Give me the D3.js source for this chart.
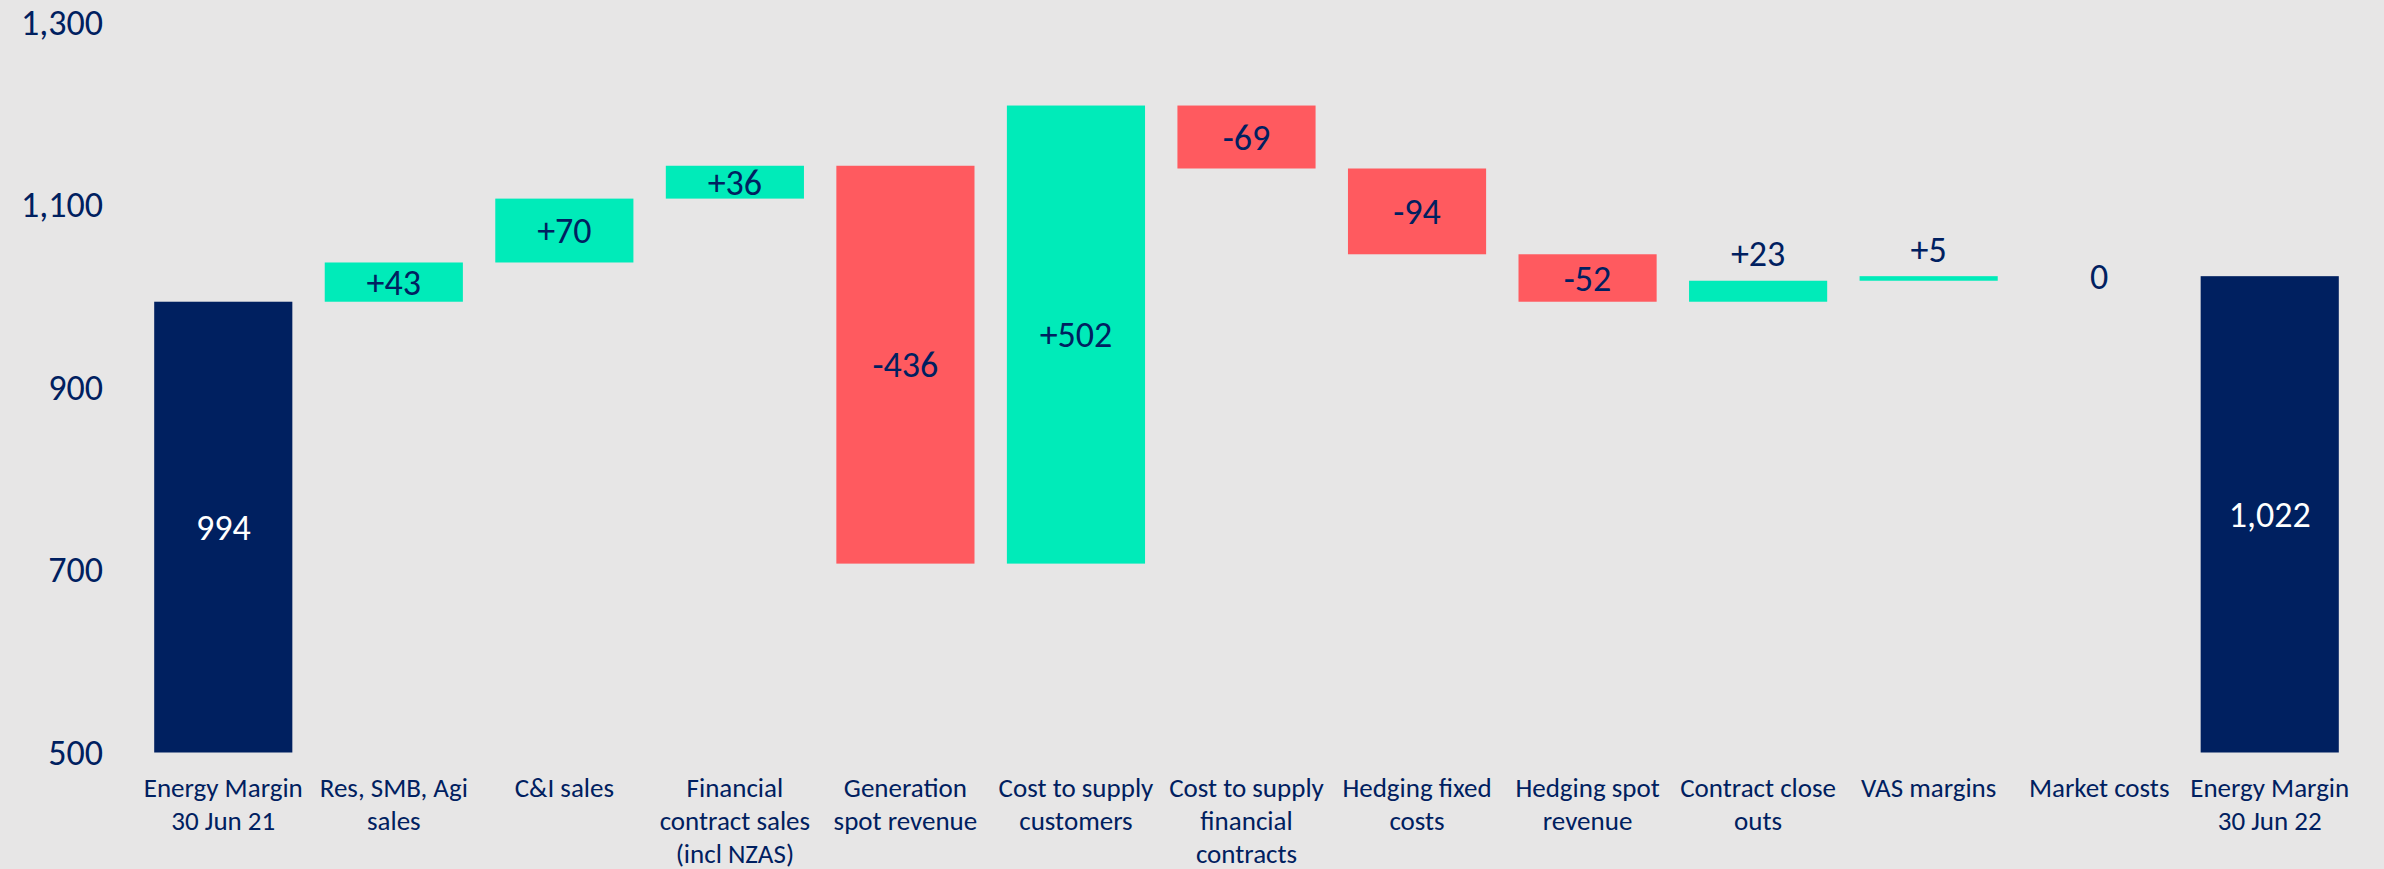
<!DOCTYPE html>
<html>
<head>
<meta charset="utf-8">
<script src="https://cdnjs.cloudflare.com/ajax/libs/d3/7.8.5/d3.min.js"></script>
<style>
    body { margin: 0; background: #e7e6e6; }
    svg text { font-family: Carlito, Calibri, Lato, "Liberation Sans", sans-serif; fill: #002060; }
</style>
</head>
<body>
<div id="chart"></div>
<script>
// waterfall: energy margin FY21 -> FY22
let categories = [
    "Energy Margin\n30 Jun 21",
    "Res, SMB, Agi\nsales",
    "C&I sales",
    "Financial\ncontract sales\n(incl NZAS)",
    "Generation\nspot revenue",
    "Cost to supply\ncustomers",
    "Cost to supply\nfinancial\ncontracts",
    "Hedging fixed\ncosts",
    "Hedging spot\nrevenue",
    "Contract close\nouts",
    "VAS margins",
    "Market costs",
    "Energy Margin\n30 Jun 22"
];
let values = [994, 43, 70, 36, -436, 502, -69, -94, -52, 23, 5, 0, 1022];
let isTotal = [true, false, false, false, false, false, false, false, false, false, false, false, true];
let yTicks = [500, 700, 900, 1100, 1300];

let width = 2384, height = 869;
let navy = "#002060", green = "#00ebb9", red = "#ff5a5f";

// work out start/end of each step
let rows = [];
let running = 0;
values.forEach(function(v, i) {
    let start, end;
    if (isTotal[i]) {
        start = 500;
        end = v;
        running = v;
    } else {
        start = running;
        end = running + v;
        running = end;
    }
    rows.push({cat: categories[i], value: v, total: isTotal[i], start: start, end: end});
});

let svg = d3.select("#chart").append("svg")
    .attr("width", width)
    .attr("height", height);

svg.append("rect")
    .attr("width", width)
    .attr("height", height)
    .attr("fill", "#e7e6e6");

let x = d3.scaleBand()
    .domain(categories)
    .range([138, 2355])
    .paddingInner(0.19)
    .paddingOuter(0.095);

let y = d3.scaleLinear()
    .domain([500, 1300])
    .range([752.5, 22.5]);

// y axis labels only, no line
let yAxis = svg.append("g")
    .attr("transform", "translate(103,0)")
    .call(d3.axisLeft(y).tickValues(yTicks).tickFormat(d3.format(",")).tickSize(0).tickPadding(0));
yAxis.select(".domain").remove();
yAxis.selectAll("text")
    .attr("font-size", 36)
    .attr("fill", navy)
    .style("font-family", null);

let bars = svg.append("g").selectAll("g")
    .data(rows)
    .enter()
    .append("g");

bars.filter(d => d.value !== 0 || d.total)
    .append("rect")
    .attr("x", d => x(d.cat))
    .attr("width", x.bandwidth())
    .attr("y", d => y(Math.max(d.start, d.end)))
    .attr("height", d => Math.max(Math.abs(y(d.start) - y(d.end)), 1))
    .attr("fill", d => d.total ? navy : (d.value < 0 ? red : green));

let fmtTotal = d3.format(",");
bars.append("text")
    .attr("x", d => x(d.cat) + x.bandwidth() / 2)
    .attr("y", function(d) {
        let top = y(Math.max(d.start, d.end));
        let bot = y(Math.min(d.start, d.end));
        if (d.value === 0) return top;
        if (bot - top < 28) return top - 27;
        return (top + bot) / 2;
    })
    .attr("dy", "0.35em")
    .attr("text-anchor", "middle")
    .attr("font-size", 36)
    .style("fill", d => d.total ? "#ffffff" : navy)
    .text(function(d) {
        if (d.total) return fmtTotal(d.value);
        if (d.value > 0) return "+" + d.value;
        return d.value;
    });

// category labels, wrapped on \n
let catLabels = svg.append("g").selectAll("text")
    .data(categories)
    .enter()
    .append("text")
    .attr("x", d => x(d) + x.bandwidth() / 2)
    .attr("y", 797)
    .attr("text-anchor", "middle")
    .attr("font-size", 27);

catLabels.selectAll("tspan")
    .data(d => d.split("\n"))
    .enter()
    .append("tspan")
    .attr("x", function() { return d3.select(this.parentNode).attr("x"); })
    .attr("dy", (d, i) => i === 0 ? 0 : 33)
    .text(d => d);
</script>
</body>
</html>
